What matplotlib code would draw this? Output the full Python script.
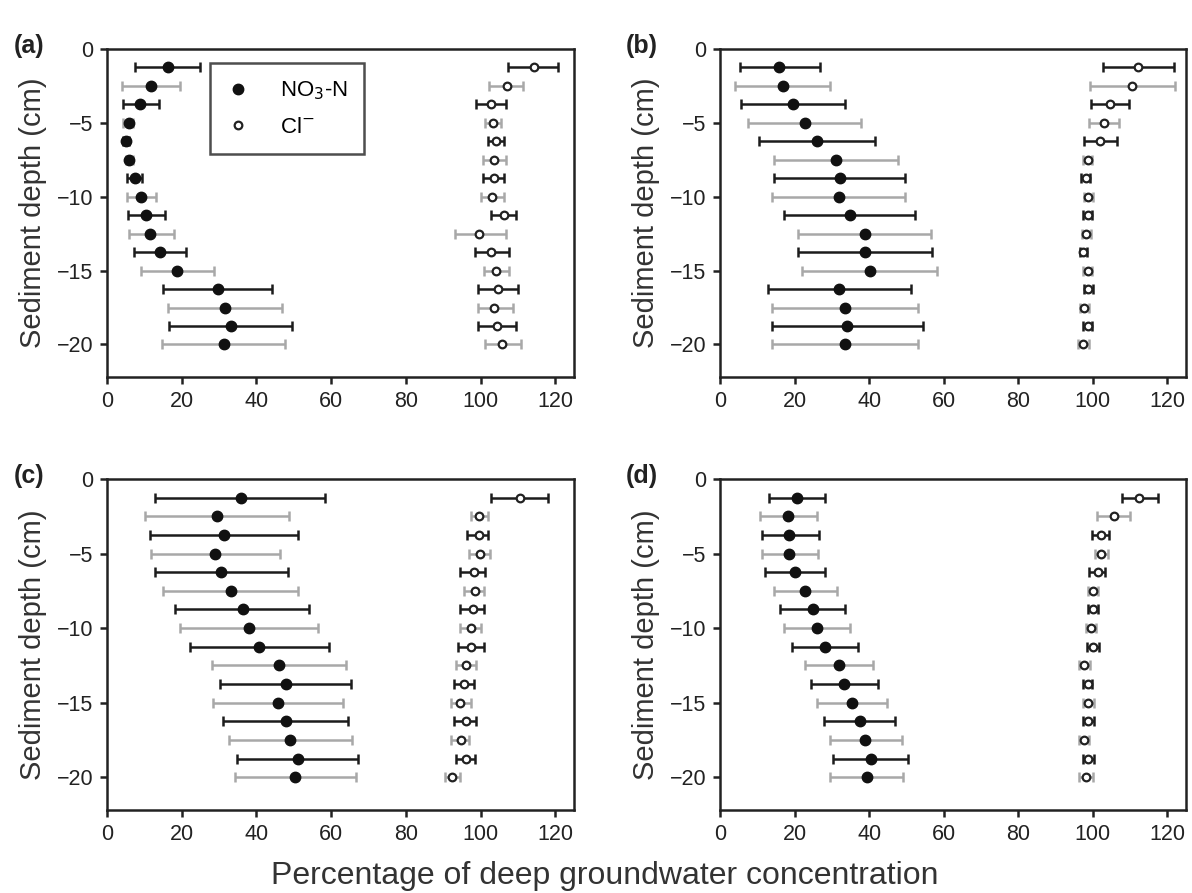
import matplotlib
matplotlib.use("Agg")
import matplotlib.pyplot as plt
from matplotlib.lines import Line2D

plt.rcParams['font.family'] = ['Liberation Sans', 'DejaVu Sans']

depths = [-1.25, -2.5, -3.75, -5.0, -6.25, -7.5, -8.75, -10.0,
          -11.25, -12.5, -13.75, -15.0, -16.25, -17.5, -18.75, -20.0]

a_no3 = [16.4, 11.7, 8.8, 5.8, 5.1, 6.0, 7.4, 9.0, 10.4, 11.6, 14.2, 18.7, 29.8, 31.6, 33.1, 31.2]
a_no3_lo = [7.5, 4.1, 4.2, 4.4, 4.3, 5.0, 5.4, 5.4, 5.5, 5.9, 7.3, 9.2, 14.9, 16.3, 16.6, 14.8]
a_no3_hi = [24.8, 19.6, 13.8, 6.9, 5.9, 7.0, 9.5, 13.1, 15.6, 17.8, 21.2, 28.6, 44.2, 46.9, 49.5, 47.6]
a_cl = [114.3, 107.0, 102.7, 103.4, 104.0, 103.6, 103.6, 103.1, 106.2, 99.7, 102.9, 104.2, 104.7, 103.6, 104.3, 105.8]
a_cl_lo = [107.4, 102.2, 98.8, 101.3, 102.0, 100.6, 100.6, 100.2, 102.7, 93.1, 98.5, 100.9, 99.4, 99.3, 99.4, 101.2]
a_cl_hi = [120.7, 111.4, 106.9, 105.5, 106.2, 106.9, 106.2, 106.2, 109.6, 106.9, 107.6, 107.6, 110.1, 108.7, 109.4, 110.7]

b_no3 = [15.9, 17.0, 19.5, 22.7, 26.0, 31.0, 32.2, 31.9, 34.9, 38.9, 38.9, 40.3, 32.0, 33.5, 34.1, 33.5]
b_no3_lo = [5.3, 4.0, 5.6, 7.4, 10.5, 14.6, 14.6, 14.0, 17.3, 20.9, 20.9, 22.1, 12.8, 13.9, 13.9, 13.9]
b_no3_hi = [26.9, 29.6, 33.6, 37.8, 41.6, 47.7, 49.7, 49.7, 52.4, 56.5, 56.9, 58.3, 51.1, 53.2, 54.5, 53.2]
b_cl = [112.2, 110.4, 104.5, 102.9, 101.8, 98.6, 98.1, 98.8, 98.6, 98.3, 97.5, 98.6, 98.8, 97.7, 98.6, 97.5]
b_cl_lo = [102.8, 99.2, 99.5, 99.1, 97.7, 97.4, 96.9, 97.6, 97.4, 97.1, 96.5, 97.3, 97.6, 96.5, 97.4, 96.0]
b_cl_hi = [121.8, 122.0, 109.8, 107.1, 106.5, 99.8, 99.3, 100.0, 99.8, 99.5, 98.5, 99.9, 100.0, 98.9, 99.8, 99.0]

c_no3 = [35.8, 29.4, 31.4, 29.0, 30.5, 33.2, 36.3, 38.0, 40.8, 46.1, 47.9, 45.8, 47.8, 49.1, 51.0, 50.4]
c_no3_lo = [12.9, 10.2, 11.5, 11.7, 12.9, 14.9, 18.3, 19.6, 22.3, 28.1, 30.3, 28.5, 31.0, 32.7, 34.9, 34.2]
c_no3_hi = [58.4, 48.7, 51.2, 46.4, 48.4, 51.2, 54.2, 56.6, 59.5, 64.0, 65.3, 63.1, 64.6, 65.6, 67.1, 66.6]
c_cl = [110.5, 99.5, 99.5, 99.8, 98.2, 98.4, 98.0, 97.5, 97.3, 96.0, 95.5, 94.6, 96.0, 94.8, 96.0, 92.4]
c_cl_lo = [102.7, 97.3, 96.3, 97.0, 94.6, 95.5, 94.6, 94.5, 94.0, 93.3, 92.8, 92.0, 93.0, 92.1, 93.3, 90.6]
c_cl_hi = [118.0, 102.0, 102.0, 102.5, 101.3, 100.9, 101.0, 100.0, 100.9, 98.7, 98.2, 97.3, 98.7, 97.0, 98.4, 94.6]

d_no3 = [20.6, 18.3, 18.6, 18.6, 20.2, 22.9, 24.9, 25.9, 28.1, 31.9, 33.2, 35.5, 37.5, 39.0, 40.4, 39.4]
d_no3_lo = [13.2, 10.8, 11.2, 11.2, 12.1, 14.6, 16.2, 17.3, 19.4, 22.9, 24.5, 26.1, 27.9, 29.5, 30.4, 29.5]
d_no3_hi = [28.2, 25.9, 26.5, 26.3, 28.1, 31.3, 33.6, 34.9, 36.9, 41.0, 42.4, 44.8, 47.0, 48.8, 50.5, 49.1]
d_cl = [112.5, 105.6, 102.2, 102.2, 101.4, 100.0, 100.0, 99.5, 100.0, 97.7, 98.6, 98.8, 98.8, 97.7, 98.8, 98.1]
d_cl_lo = [107.8, 101.1, 99.9, 100.5, 99.1, 98.6, 98.7, 98.2, 98.4, 96.2, 97.3, 97.3, 97.4, 96.3, 97.4, 96.2]
d_cl_hi = [117.5, 109.9, 104.4, 104.0, 103.4, 101.3, 101.3, 100.9, 101.6, 99.2, 99.9, 100.3, 100.2, 99.1, 100.2, 100.0]

panel_labels = ['(a)', '(b)', '(c)', '(d)']
x_ticks = [0, 20, 40, 60, 80, 100, 120]
y_ticks = [0, -5, -10, -15, -20]
legend_labels = ['NO$_3$-N', 'Cl$^{-}$']
x_label = 'Percentage of deep groundwater concentration'
y_label = 'Sediment depth (cm)'

panels = [
    (a_no3, a_no3_lo, a_no3_hi, a_cl, a_cl_lo, a_cl_hi),
    (b_no3, b_no3_lo, b_no3_hi, b_cl, b_cl_lo, b_cl_hi),
    (c_no3, c_no3_lo, c_no3_hi, c_cl, c_cl_lo, c_cl_hi),
    (d_no3, d_no3_lo, d_no3_hi, d_cl, d_cl_lo, d_cl_hi),
]

W, H = 1192, 893
fig = plt.figure(figsize=(W / 100, H / 100), dpi=100)

# axes boxes in pixels: left, top, right, bottom
boxes = [(107, 49, 574, 377), (720, 49, 1186, 377),
         (107, 479, 574, 810), (720, 479, 1186, 810)]
label_pos = [(14, 46), (626, 46), (14, 476), (626, 476)]

dark = '#1c1c1c'
light = '#a8a8a8'

for i, (box, data) in enumerate(zip(boxes, panels)):
    l, t, r, b = box
    ax = fig.add_axes([l / W, 1 - b / H, (r - l) / W, (b - t) / H])
    no3, no3_lo, no3_hi, cl, cl_lo, cl_hi = data
    for j, y in enumerate(depths):
        col = dark if j % 2 == 0 else light
        for v, lo, hi, filled in ((no3[j], no3_lo[j], no3_hi[j], True),
                                  (cl[j], cl_lo[j], cl_hi[j], False)):
            ax.errorbar([v], [y], xerr=[[v - lo], [hi - v]], fmt='none',
                        ecolor=col, elinewidth=1.8, capsize=3.5, capthick=1.8,
                        zorder=2)
            if filled:
                ax.plot([v], [y], 'o', color='#111111', markersize=7.5, zorder=3)
            else:
                ax.plot([v], [y], 'o', markerfacecolor='white',
                        markeredgecolor='#222222', markeredgewidth=1.6,
                        markersize=5.5, zorder=3)
    ax.set_xlim(0, 125)
    ax.set_ylim(-22.2, 0)
    ax.set_xticks(x_ticks)
    ax.set_yticks(y_ticks)
    ax.tick_params(axis='both', direction='out', length=5, width=1.8,
                   labelsize=15.5, colors='#222222', pad=5)
    for sp in ax.spines.values():
        sp.set_linewidth(1.8)
        sp.set_color('#222222')
    ax.set_ylabel(y_label, fontsize=21, color='#333333', labelpad=7)
    fig.text(label_pos[i][0] / W, 1 - label_pos[i][1] / H, panel_labels[i],
             fontsize=18, fontweight='bold', color='#222222',
             ha='left', va='center')
    if i == 0:
        handles = [
            Line2D([], [], linestyle='none', marker='o', color='#111111',
                   markersize=7.5),
            Line2D([], [], linestyle='none', marker='o',
                   markerfacecolor='white', markeredgecolor='#222222',
                   markeredgewidth=1.6, markersize=5.5),
        ]
        leg = ax.legend(handles, legend_labels, loc='upper left',
                        bbox_to_anchor=((210 - l) / (r - l), 1 - (63 - t) / (b - t)),
                        borderaxespad=0, frameon=True, fancybox=False,
                        fontsize=16, handlelength=1.0, handletextpad=1.4,
                        borderpad=0.75, labelspacing=0.65,
                        edgecolor='#222222')
        leg.get_frame().set_linewidth(1.8)

fig.text(605 / W, 1 - 876 / H, x_label, fontsize=23, color='#333333',
         ha='center', va='center')

fig.savefig('out.png', dpi=100)
